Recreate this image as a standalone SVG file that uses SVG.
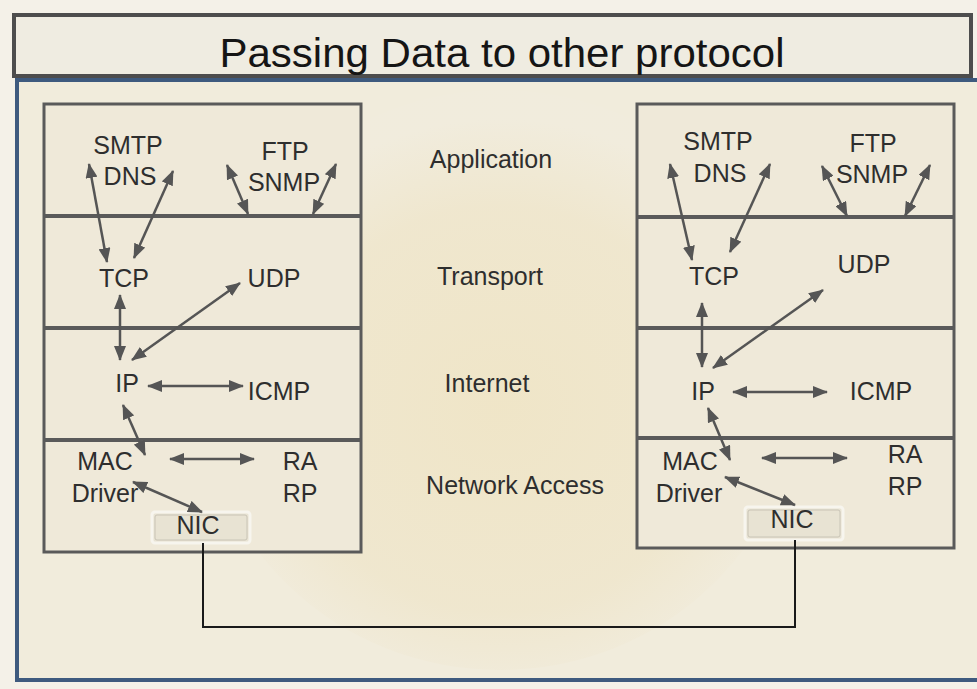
<svg xmlns="http://www.w3.org/2000/svg" width="977" height="689" viewBox="0 0 977 689">
<defs>
<style>
.lbl{font-family:"Liberation Sans",Arial,sans-serif;font-size:25px;fill:#2e2e2e;text-anchor:middle}
.ttl{font-family:"Liberation Sans",Arial,sans-serif;font-size:40px;fill:#151515;text-anchor:middle}
.stack{stroke:#5a5a5a;stroke-width:3}
.sep{stroke:#5a5a5a;stroke-width:4}
.arr{stroke:#555;stroke-width:2.5;fill:none;marker-start:url(#ah);marker-end:url(#ah)}
.nic{fill:#e8e3d3;stroke:#f7f5ee;stroke-width:3}
.nic2{fill:none;stroke:#c9c4b6;stroke-width:1}
.wire{stroke:#1a1a1a;stroke-width:2;fill:none}
</style>
<marker id="ah" viewBox="0 0 15 12" refX="14" refY="6" markerWidth="15" markerHeight="12" markerUnits="userSpaceOnUse" orient="auto-start-reverse">
<path d="M0,0 L15,6 L0,12 z" fill="#555"/>
</marker>
<radialGradient id="glow" cx="0.5" cy="0.55" r="0.5">
<stop offset="0" stop-color="#efe4c4"/>
<stop offset="0.7" stop-color="#efe6cc"/>
<stop offset="1" stop-color="#f1ecdd"/>
</radialGradient>
</defs>
<rect x="0" y="0" width="977" height="689" fill="#f4f1e8"/>
<g id="panel">
<rect x="17" y="80" width="962" height="600" fill="#f1ecdc" stroke="#3e5a7e" stroke-width="4"/>
<ellipse cx="500" cy="380" rx="300" ry="290" fill="url(#glow)" opacity="0.85"/>
</g>
<g id="title">
<rect x="14" y="15" width="957" height="61" fill="#efece1" stroke="#4d4d4d" stroke-width="4"/>
<text class="ttl" x="502" y="67" textLength="565" lengthAdjust="spacingAndGlyphs">Passing Data to other protocol</text>
</g>
<g id="left-stack">
<rect class="stack" x="44" y="104" width="317" height="448" fill="#efe9d9"/>
<line class="sep" x1="44" y1="216" x2="361" y2="216"/>
<line class="sep" x1="44" y1="328" x2="361" y2="328"/>
<line class="sep" x1="44" y1="440" x2="361" y2="440"/>
</g>
<g id="right-stack">
<rect class="stack" x="637" y="104" width="317" height="444" fill="#efe9d9"/>
<line class="sep" x1="637" y1="217" x2="954" y2="217"/>
<line class="sep" x1="637" y1="328" x2="954" y2="328"/>
<line class="sep" x1="637" y1="438" x2="954" y2="438"/>
</g>
<g id="layer-application"><text class="lbl" x="491" y="168">Application</text></g>
<g id="layer-transport"><text class="lbl" x="490" y="285">Transport</text></g>
<g id="layer-internet"><text class="lbl" x="487" y="392">Internet</text></g>
<g id="layer-network-access"><text class="lbl" x="515" y="494">Network Access</text></g>

<g id="L-smtp-dns"><text class="lbl" x="128" y="154">SMTP</text><text class="lbl" x="130" y="185">DNS</text></g>
<g id="L-ftp-snmp"><text class="lbl" x="285" y="160">FTP</text><text class="lbl" x="284" y="191">SNMP</text></g>
<g id="L-tcp"><text class="lbl" x="124" y="287">TCP</text></g>
<g id="L-udp"><text class="lbl" x="274" y="287">UDP</text></g>
<g id="L-ip"><text class="lbl" x="127" y="392">IP</text></g>
<g id="L-icmp"><text class="lbl" x="279" y="400">ICMP</text></g>
<g id="L-mac-driver"><text class="lbl" x="105" y="470">MAC</text><text class="lbl" x="105" y="502">Driver</text></g>
<g id="L-ra-rp"><text class="lbl" x="300" y="470">RA</text><text class="lbl" x="300" y="502">RP</text></g>
<g id="L-nic"><rect class="nic" x="152" y="512" width="98" height="31" rx="3"/><rect class="nic2" x="155" y="515" width="92" height="25" rx="2"/><text class="lbl" x="198" y="534">NIC</text></g>

<g id="R-smtp-dns"><text class="lbl" x="718" y="150">SMTP</text><text class="lbl" x="720" y="182">DNS</text></g>
<g id="R-ftp-snmp"><text class="lbl" x="873" y="152">FTP</text><text class="lbl" x="872" y="183">SNMP</text></g>
<g id="R-tcp"><text class="lbl" x="714" y="285">TCP</text></g>
<g id="R-udp"><text class="lbl" x="864" y="273">UDP</text></g>
<g id="R-ip"><text class="lbl" x="703" y="400">IP</text></g>
<g id="R-icmp"><text class="lbl" x="881" y="400">ICMP</text></g>
<g id="R-mac-driver"><text class="lbl" x="690" y="470">MAC</text><text class="lbl" x="689" y="502">Driver</text></g>
<g id="R-ra-rp"><text class="lbl" x="905" y="463">RA</text><text class="lbl" x="905" y="495">RP</text></g>
<g id="R-nic"><rect class="nic" x="745" y="507" width="98" height="33" rx="3"/><rect class="nic2" x="748" y="510" width="92" height="27" rx="2"/><text class="lbl" x="792" y="528">NIC</text></g>

<g id="connectors">
<line class="arr" x1="89" y1="164" x2="107" y2="262"/>
<line class="arr" x1="173" y1="171" x2="134" y2="258"/>
<line class="arr" x1="227" y1="165" x2="248" y2="214"/>
<line class="arr" x1="336" y1="164" x2="313" y2="214"/>
<line class="arr" x1="120" y1="295" x2="120" y2="360"/>
<line class="arr" x1="240" y1="283" x2="132" y2="360"/>
<line class="arr" x1="148" y1="386" x2="243" y2="386"/>
<line class="arr" x1="123" y1="405" x2="145" y2="455"/>
<line class="arr" x1="170" y1="459" x2="254" y2="459"/>
<line class="arr" x1="133" y1="482" x2="202" y2="512"/>

<line class="arr" x1="670" y1="164" x2="692" y2="260"/>
<line class="arr" x1="770" y1="164" x2="730" y2="252"/>
<line class="arr" x1="822" y1="166" x2="847" y2="216"/>
<line class="arr" x1="930" y1="165" x2="905" y2="216"/>
<line class="arr" x1="702" y1="303" x2="702" y2="367"/>
<line class="arr" x1="823" y1="290" x2="713" y2="368"/>
<line class="arr" x1="733" y1="392" x2="827" y2="392"/>
<line class="arr" x1="708" y1="408" x2="730" y2="460"/>
<line class="arr" x1="762" y1="458" x2="847" y2="458"/>
<line class="arr" x1="725" y1="477" x2="795" y2="505"/>

<polyline class="wire" points="203,543 203,627 795,627 795,540"/>
</g>
</svg>
